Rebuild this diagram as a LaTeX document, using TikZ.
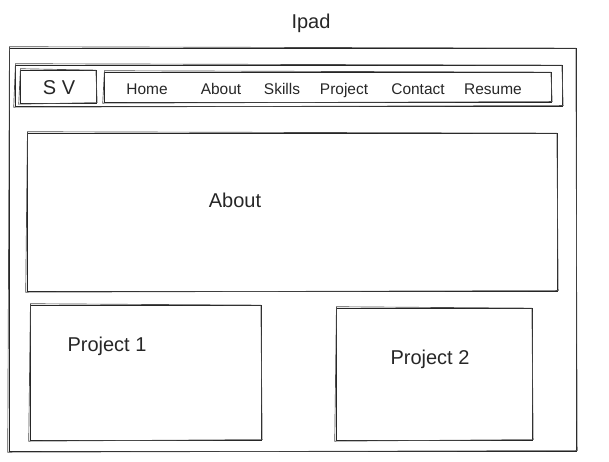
\documentclass[tikz,border=0pt]{standalone}
\usepackage{fontspec}
\setmainfont{Liberation Sans}
\begin{document}
\begin{tikzpicture}[x=0.75pt,y=-0.75pt,
  box/.style={draw=black!85,line width=0.7pt,inner sep=0pt},
  label/.style={inner sep=0pt,text=black!85,text height=0.72em,text depth=0pt},
  big/.style={label,font=\fontsize{15}{18}\selectfont},
  menu/.style={label,font=\fontsize{11.6}{14}\selectfont}]
\useasboundingbox (0,0) rectangle (609,461);
% second pencil stroke around a box
\newcommand\restroke[1]{\draw[black!70,line width=0.5pt]
  ([shift={(0.9,-0.8)}]#1.north west) -- ([shift={(-0.6,0.6)}]#1.north east)
  -- ([shift={(0.7,-0.9)}]#1.south east) -- ([shift={(-0.8,0.7)}]#1.south west) -- cycle;}

\node[big] (title) at (311,24) {Ipad};

% device frame
\node[box,minimum width=425.25pt,minimum height=302.25pt] (frame) at (292.5,249.5) {};
\restroke{frame}

% navigation bar
\node[box,minimum width=410.25pt,minimum height=30.75pt] (nav) at (288.5,85.5) {};
\restroke{nav}
\node[box,minimum width=57pt,minimum height=24.75pt] (logo) at (58,86.5) {};
\restroke{logo}
\node[big] (logotext) at (59,90) {S V};
\node[box,minimum width=335.25pt,minimum height=22.5pt] (menu) at (327.5,87) {};
\restroke{menu}
\node[menu] (home) at (147,89.5) {Home};
\node[menu] (aboutlink) at (221,89.5) {About};
\node[menu] (skills) at (282,89.5) {Skills};
\node[menu] (project) at (344,89.5) {Project};
\node[menu] (contact) at (418,89.5) {Contact};
\node[menu] (resume) at (493,89.5) {Resume};

% about section
\node[box,minimum width=397.5pt,minimum height=118.5pt] (about) at (292,212) {};
\restroke{about}
\node[big] (abouttext) at (235,203) {About};

% project cards
\node[box,minimum width=173.25pt,minimum height=101.25pt] (p1) at (145.5,372.5) {};
\restroke{p1}
\node[big] (p1text) at (107,347) {Project 1};
\node[box,minimum width=147pt,minimum height=99pt] (p2) at (434,374) {};
\restroke{p2}
\node[big] (p2text) at (430,360) {Project 2};
\end{tikzpicture}
\end{document}
